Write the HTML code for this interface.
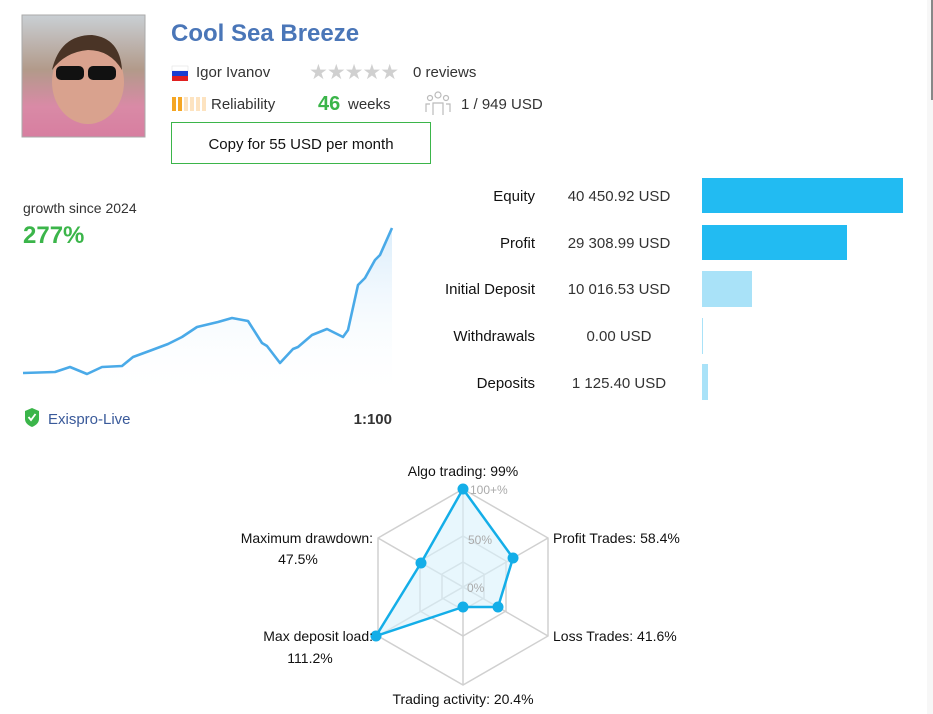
<!DOCTYPE html>
<html><head><meta charset="utf-8"><style>
html,body{margin:0;padding:0;background:#fff;width:933px;height:714px;overflow:hidden}
svg{display:block}
text{font-family:"Liberation Sans","DejaVu Sans",sans-serif}
</style></head><body>
<svg width="933" height="714" viewBox="0 0 933 714" xmlns="http://www.w3.org/2000/svg">
<defs>
<linearGradient id="ph" x1="0" y1="0" x2="0" y2="1">
<stop offset="0" stop-color="#c9cfd4"/><stop offset="0.45" stop-color="#b29a8a"/><stop offset="0.75" stop-color="#d98aa6"/><stop offset="1" stop-color="#d77ea0"/></linearGradient>
<linearGradient id="gf" x1="0" y1="0" x2="0" y2="1">
<stop offset="0" stop-color="#d6ebfb" stop-opacity="0.9"/><stop offset="1" stop-color="#fff" stop-opacity="0"/></linearGradient>
</defs>
<rect x="927" y="0" width="6" height="714" fill="#f7f7f7"/>
<rect x="931" y="0" width="2" height="100" fill="#888"/>
<rect x="22" y="15" width="123" height="122" fill="url(#ph)" stroke="#aaa"/>
<ellipse cx="88" cy="82" rx="36" ry="42" fill="#d9a28e"/>
<path d="M52 70 Q60 35 92 35 Q120 38 122 70 Q110 50 88 50 Q65 52 52 70Z" fill="#4a3426"/>
<rect x="56" y="66" width="28" height="14" rx="5" fill="#111"/><rect x="88" y="66" width="28" height="14" rx="5" fill="#111"/>
<text x="171" y="41" font-size="24" font-weight="bold" fill="#4a76b8">Cool Sea Breeze</text>
<rect x="172" y="66" width="16" height="5" fill="#fff" stroke="#ddd" stroke-width="0.5"/><rect x="172" y="71" width="16" height="5" fill="#1a3fd1"/><rect x="172" y="76" width="16" height="5" fill="#e02020"/>
<text x="196" y="77" font-size="15" fill="#333">Igor Ivanov</text>
<g fill="#d0d0d0" font-size="21"><text x="309" y="79" letter-spacing="-1">★★★★★</text></g>
<text x="413" y="77" font-size="15" fill="#333">0 reviews</text>
<rect x="172" y="97" width="4" height="14" fill="#f5a623"/><rect x="178" y="97" width="4" height="14" fill="#f5a623"/>
<rect x="184" y="97" width="4" height="14" fill="#fde3c0"/><rect x="190" y="97" width="4" height="14" fill="#fde3c0"/><rect x="196" y="97" width="4" height="14" fill="#fde3c0"/><rect x="202" y="97" width="4" height="14" fill="#fde3c0"/>
<text x="211" y="109" font-size="15" fill="#333">Reliability</text>
<text x="318" y="110" font-size="20" font-weight="bold" fill="#3bb54a">46</text>
<text x="348" y="109" font-size="15" fill="#333">weeks</text>
<g fill="none" stroke="#bbb" stroke-width="1.2"><circle cx="438" cy="95" r="3"/><circle cx="430" cy="98" r="2.5"/><circle cx="446" cy="98" r="2.5"/><path d="M433 115v-12h10v12M426 112v-8h4M446 104h4v8"/></g>
<text x="461" y="109" font-size="15" fill="#333">1 / 949 USD</text>
<rect x="171.5" y="122.5" width="259" height="41" fill="#fff" stroke="#3bb54a"/>
<text x="301" y="149" font-size="15" fill="#111" text-anchor="middle">Copy for 55 USD per month</text>
<text x="23" y="213" font-size="14" fill="#333">growth since 2024</text>
<text x="23" y="243" font-size="24" font-weight="bold" fill="#3bb54a">277%</text>
<path d="M23 373 L55 372 L70 367 L87 374 L102 367 L122 366 L133 357 L152 350 L168 344 L182 337 L197 327 L218 322 L232 318 L248 321 L262 343 L267 346 L280 363 L293 349 L298 347 L312 335 L327 329 L343 337 L348 330 L358 285 L365 278 L375 260 L380 255 L392 228 L392 400 L23 400Z" fill="url(#gf)"/>
<path d="M23 373 L55 372 L70 367 L87 374 L102 367 L122 366 L133 357 L152 350 L168 344 L182 337 L197 327 L218 322 L232 318 L248 321 L262 343 L267 346 L280 363 L293 349 L298 347 L312 335 L327 329 L343 337 L348 330 L358 285 L365 278 L375 260 L380 255 L392 228" fill="none" stroke="#4aaae8" stroke-width="2.6" stroke-linejoin="round"/>
<path d="M25 411 L32 408 L39 411 L39 419 Q39 424 32 427 Q25 424 25 419Z" fill="#3bb54a"/>
<path d="M28.5 417 L31 420 L35.5 414" fill="none" stroke="#fff" stroke-width="1.8"/>
<text x="48" y="424" font-size="15" fill="#3a5a9a">Exispro-Live</text>
<text x="392" y="424" font-size="15" font-weight="bold" fill="#333" text-anchor="end">1:100</text>
<g font-size="15" fill="#111" text-anchor="end">
<text x="535" y="201">Equity</text><text x="535" y="248">Profit</text><text x="535" y="294">Initial Deposit</text><text x="535" y="341">Withdrawals</text><text x="535" y="388">Deposits</text></g>
<g font-size="15" fill="#333" text-anchor="middle">
<text x="619" y="201">40 450.92 USD</text><text x="619" y="248">29 308.99 USD</text><text x="619" y="294">10 016.53 USD</text><text x="619" y="341">0.00 USD</text><text x="619" y="388">1 125.40 USD</text></g>
<rect x="702" y="178" width="201" height="35" fill="#22bbf2"/>
<rect x="702" y="225" width="145" height="35" fill="#22bbf2"/>
<rect x="702" y="271" width="50" height="36" fill="#a9e2f8"/>
<rect x="702" y="318" width="1" height="36" fill="#a9e2f8"/>
<rect x="702" y="364" width="6" height="36" fill="#a9e2f8"/>
<g fill="none" stroke="#d0d0d0" stroke-width="1.5">
<polygon points="463,489 548,538 548,636 463,685 378,636 378,538"/>
<polygon points="463,536 506,561 506,611 463,636 420,611 420,561"/>
<polygon points="463,562 484,574 484,598 463,610 442,598 442,574"/>
<path d="M463 489V685M378 538L548 636M548 538L378 636"/>
</g>
<polygon points="463,489 513,558 498,607 463,607 376,636 421,563" fill="#d8f1fc" fill-opacity="0.6" stroke="#14aee8" stroke-width="2.5" stroke-linejoin="round"/>
<g fill="#14aee8"><circle cx="463" cy="489" r="5.5"/><circle cx="513" cy="558" r="5.5"/><circle cx="498" cy="607" r="5.5"/><circle cx="463" cy="607" r="5.5"/><circle cx="376" cy="636" r="5.5"/><circle cx="421" cy="563" r="5.5"/></g>
<g font-size="12" fill="#aaa"><text x="470" y="494">100+%</text><text x="468" y="544">50%</text><text x="467" y="592">0%</text></g>
<g font-size="14" fill="#111">
<text x="463" y="476" text-anchor="middle">Algo trading: 99%</text>
<text x="553" y="543">Profit Trades: 58.4%</text>
<text x="553" y="641">Loss Trades: 41.6%</text>
<text x="463" y="704" text-anchor="middle">Trading activity: 20.4%</text>
<text x="373" y="543" text-anchor="end">Maximum drawdown:</text>
<text x="298" y="564" text-anchor="middle">47.5%</text>
<text x="373" y="641" text-anchor="end">Max deposit load:</text>
<text x="310" y="663" text-anchor="middle">111.2%</text>
</g>
</svg>
</body></html>
